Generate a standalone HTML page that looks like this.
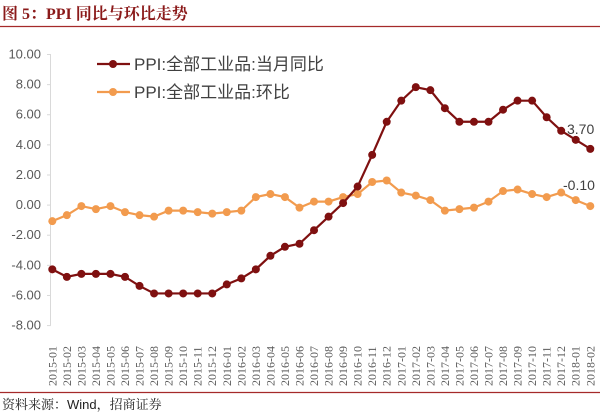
<!DOCTYPE html><html><head><meta charset="utf-8"><style>body{margin:0;background:#fff}svg{display:block}</style></head><body>
<svg width="600" height="412" xmlns="http://www.w3.org/2000/svg" font-family="Liberation Sans, Noto Sans CJK SC, sans-serif">
<text x="2" y="19" font-family="Liberation Serif, Noto Serif CJK SC, serif" font-weight="bold" font-size="16" fill="#8b1a1a">图 5：PPI 同比与环比走势</text>
<line x1="0" y1="26.5" x2="600" y2="26.5" stroke="#a52a2a" stroke-width="1.2"/>
<line x1="0" y1="392.5" x2="600" y2="392.5" stroke="#a52a2a" stroke-width="1.2"/>
<text x="2" y="409" font-size="13" fill="#222" font-family="Liberation Sans, Noto Serif CJK SC, serif">资料来源：Wind，招商证券</text>
<line x1="50.5" y1="54" x2="50.5" y2="325" stroke="#d9d9d9"/>
<g font-size="13" fill="#595959" text-anchor="end" id="yl"></g>
<g id="xl" font-size="12" fill="#595959" font-family="Liberation Serif, serif"></g>
<g id="s"></g>
<g font-size="17" fill="#404040">
<line x1="97" y1="64" x2="130" y2="64" stroke="#7f1010" stroke-width="2.2"/><circle cx="113" cy="64" r="4" fill="#7f1010"/>
<text x="134" y="70">PPI:全部工业品:当月同比</text>
<line x1="97" y1="92" x2="130" y2="92" stroke="#f29b4e" stroke-width="2.2"/><circle cx="113" cy="92" r="4" fill="#f29b4e"/>
<text x="134" y="98">PPI:全部工业品:环比</text>
<text x="567" y="134" font-size="14">3.70</text>
<text x="563" y="190" font-size="14">-0.10</text>
</g>
</svg>
<script>
var ns="http://www.w3.org/2000/svg";
function y(v){return 204.6-v*15.06}
function x(i){return 52.3+i*14.54}
function el(p,t,a,txt){var e=document.createElementNS(ns,t);for(var k in a)e.setAttribute(k,a[k]);if(txt)e.textContent=txt;document.getElementById(p).appendChild(e);}
for(var v=10;v>=-8;v-=2){el('yl','text',{x:41,y:y(v)+4.5},v.toFixed(2));el('yl','line',{x1:47,x2:51,y1:y(v)+.5,y2:y(v)+.5,stroke:'#d9d9d9'});}
for(var i=0;i<38;i++){var yr=2015+Math.floor(i/12),m=i%12+1;el('xl','text',{transform:'translate('+(x(i)+4)+',386) rotate(-90)'},yr+'-'+(m<10?'0':'')+m);}
var a=[-4.3,-4.8,-4.6,-4.6,-4.6,-4.8,-5.4,-5.9,-5.9,-5.9,-5.9,-5.9,-5.3,-4.9,-4.3,-3.4,-2.8,-2.6,-1.7,-0.8,0.1,1.2,3.3,5.5,6.9,7.8,7.6,6.4,5.5,5.5,5.5,6.3,6.9,6.9,5.8,4.9,4.3,3.7];
var b=[-1.1,-0.7,-0.1,-0.3,-0.1,-0.5,-0.7,-0.8,-0.4,-0.4,-0.5,-0.6,-0.5,-0.4,0.5,0.7,0.5,-0.2,0.2,0.2,0.5,0.7,1.5,1.6,0.8,0.6,0.3,-0.4,-0.3,-0.2,0.2,0.9,1.0,0.7,0.5,0.8,0.3,-0.1];
function ser(d,c){var p=d.map(function(v,i){return x(i)+','+y(v)}).join(' ');el('s','polyline',{points:p,fill:'none',stroke:c,'stroke-width':2.2});d.forEach(function(v,i){el('s','circle',{cx:x(i),cy:y(v),r:4,fill:c})});}
ser(b,'#f29b4e');ser(a,'#7f1010');
</script>
</body></html>
